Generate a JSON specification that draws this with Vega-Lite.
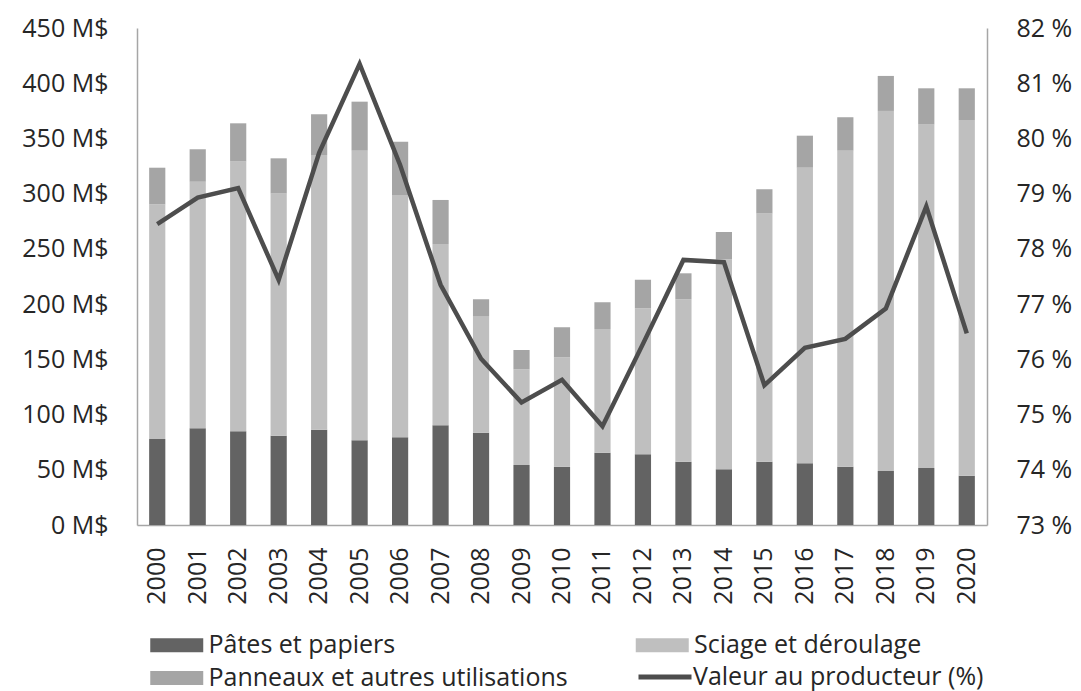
{
  "$schema": "https://vega.github.io/schema/vega-lite/v6.json",
  "width": 850,
  "height": 497,
  "autosize": {"type": "none"},
  "padding": {"left": 137, "top": 28, "right": 94, "bottom": 166},
  "background": "white",
  "config": {
    "font": "Open Sans",
    "view": {"stroke": null},
    "axis": {
      "labelFont": "Open Sans",
      "labelFontSize": 25,
      "labelColor": "#262626",
      "grid": false,
      "ticks": false,
      "domainColor": "#a6a6a6",
      "domainWidth": 1.5,
      "title": null
    },
    "legend": {
      "labelFont": "Open Sans",
      "labelFontSize": 25,
      "labelColor": "#262626",
      "labelLimit": 600,
      "padding": 0,
      "title": null
    }
  },
  "datasets": {
    "bars": [
      {"year": "2000", "cat": "Pâtes et papiers", "v": 77.9},
      {"year": "2000", "cat": "Sciage et déroulage", "v": 212.5},
      {"year": "2000", "cat": "Panneaux et autres utilisations", "v": 33.1},
      {"year": "2001", "cat": "Pâtes et papiers", "v": 87.6},
      {"year": "2001", "cat": "Sciage et déroulage", "v": 223.2},
      {"year": "2001", "cat": "Panneaux et autres utilisations", "v": 29.4},
      {"year": "2002", "cat": "Pâtes et papiers", "v": 84.8},
      {"year": "2002", "cat": "Sciage et déroulage", "v": 244.5},
      {"year": "2002", "cat": "Panneaux et autres utilisations", "v": 34.4},
      {"year": "2003", "cat": "Pâtes et papiers", "v": 80.9},
      {"year": "2003", "cat": "Sciage et déroulage", "v": 219.4},
      {"year": "2003", "cat": "Panneaux et autres utilisations", "v": 31.7},
      {"year": "2004", "cat": "Pâtes et papiers", "v": 86.3},
      {"year": "2004", "cat": "Sciage et déroulage", "v": 248.7},
      {"year": "2004", "cat": "Panneaux et autres utilisations", "v": 36.9},
      {"year": "2005", "cat": "Pâtes et papiers", "v": 76.7},
      {"year": "2005", "cat": "Sciage et déroulage", "v": 262.2},
      {"year": "2005", "cat": "Panneaux et autres utilisations", "v": 44.4},
      {"year": "2006", "cat": "Pâtes et papiers", "v": 79.4},
      {"year": "2006", "cat": "Sciage et déroulage", "v": 219.4},
      {"year": "2006", "cat": "Panneaux et autres utilisations", "v": 48.3},
      {"year": "2007", "cat": "Pâtes et papiers", "v": 90.3},
      {"year": "2007", "cat": "Sciage et déroulage", "v": 164.1},
      {"year": "2007", "cat": "Panneaux et autres utilisations", "v": 39.9},
      {"year": "2008", "cat": "Pâtes et papiers", "v": 83.6},
      {"year": "2008", "cat": "Sciage et déroulage", "v": 105.6},
      {"year": "2008", "cat": "Panneaux et autres utilisations", "v": 15.2},
      {"year": "2009", "cat": "Pâtes et papiers", "v": 54.3},
      {"year": "2009", "cat": "Sciage et déroulage", "v": 86.7},
      {"year": "2009", "cat": "Panneaux et autres utilisations", "v": 17.5},
      {"year": "2010", "cat": "Pâtes et papiers", "v": 52.8},
      {"year": "2010", "cat": "Sciage et déroulage", "v": 99.0},
      {"year": "2010", "cat": "Panneaux et autres utilisations", "v": 27.2},
      {"year": "2011", "cat": "Pâtes et papiers", "v": 65.5},
      {"year": "2011", "cat": "Sciage et déroulage", "v": 112.0},
      {"year": "2011", "cat": "Panneaux et autres utilisations", "v": 24.1},
      {"year": "2012", "cat": "Pâtes et papiers", "v": 64.0},
      {"year": "2012", "cat": "Sciage et déroulage", "v": 132.2},
      {"year": "2012", "cat": "Panneaux et autres utilisations", "v": 25.9},
      {"year": "2013", "cat": "Pâtes et papiers", "v": 57.3},
      {"year": "2013", "cat": "Sciage et déroulage", "v": 147.1},
      {"year": "2013", "cat": "Panneaux et autres utilisations", "v": 23.5},
      {"year": "2014", "cat": "Pâtes et papiers", "v": 50.4},
      {"year": "2014", "cat": "Sciage et déroulage", "v": 190.2},
      {"year": "2014", "cat": "Panneaux et autres utilisations", "v": 24.7},
      {"year": "2015", "cat": "Pâtes et papiers", "v": 57.3},
      {"year": "2015", "cat": "Sciage et déroulage", "v": 224.9},
      {"year": "2015", "cat": "Panneaux et autres utilisations", "v": 21.8},
      {"year": "2016", "cat": "Pâtes et papiers", "v": 55.9},
      {"year": "2016", "cat": "Sciage et déroulage", "v": 267.6},
      {"year": "2016", "cat": "Panneaux et autres utilisations", "v": 29.0},
      {"year": "2017", "cat": "Pâtes et papiers", "v": 52.8},
      {"year": "2017", "cat": "Sciage et déroulage", "v": 286.1},
      {"year": "2017", "cat": "Panneaux et autres utilisations", "v": 30.3},
      {"year": "2018", "cat": "Pâtes et papiers", "v": 48.9},
      {"year": "2018", "cat": "Sciage et déroulage", "v": 326.0},
      {"year": "2018", "cat": "Panneaux et autres utilisations", "v": 31.7},
      {"year": "2019", "cat": "Pâtes et papiers", "v": 51.6},
      {"year": "2019", "cat": "Sciage et déroulage", "v": 310.9},
      {"year": "2019", "cat": "Panneaux et autres utilisations", "v": 32.9},
      {"year": "2020", "cat": "Pâtes et papiers", "v": 44.6},
      {"year": "2020", "cat": "Sciage et déroulage", "v": 322.1},
      {"year": "2020", "cat": "Panneaux et autres utilisations", "v": 28.7}
    ],
    "line": [
      {"year": "2000", "pct": 78.45},
      {"year": "2001", "pct": 78.93},
      {"year": "2002", "pct": 79.10},
      {"year": "2003", "pct": 77.44},
      {"year": "2004", "pct": 79.74},
      {"year": "2005", "pct": 81.35},
      {"year": "2006", "pct": 79.52},
      {"year": "2007", "pct": 77.35},
      {"year": "2008", "pct": 76.01},
      {"year": "2009", "pct": 75.22},
      {"year": "2010", "pct": 75.63},
      {"year": "2011", "pct": 74.79},
      {"year": "2012", "pct": 76.28},
      {"year": "2013", "pct": 77.80},
      {"year": "2014", "pct": 77.76},
      {"year": "2015", "pct": 75.53},
      {"year": "2016", "pct": 76.21},
      {"year": "2017", "pct": 76.37},
      {"year": "2018", "pct": 76.92},
      {"year": "2019", "pct": 78.77},
      {"year": "2020", "pct": 76.47}
    ]
  },
  "layer": [
    {
      "data": {"name": "bars"},
      "transform": [
        {"calculate": "indexof(['Pâtes et papiers', 'Sciage et déroulage', 'Panneaux et autres utilisations'], datum.cat)", "as": "ord"}
      ],
      "mark": {"type": "bar"},
      "encoding": {
        "x": {
          "field": "year",
          "type": "ordinal",
          "scale": {"paddingInner": 0.6, "paddingOuter": 0.3},
          "axis": {"labelAngle": -90, "labelPadding": 22}
        },
        "y": {
          "field": "v",
          "type": "quantitative",
          "stack": "zero",
          "scale": {"domain": [0, 450], "nice": false},
          "axis": {
            "values": [0, 50, 100, 150, 200, 250, 300, 350, 400, 450],
            "labelExpr": "datum.value + ' M$'",
            "labelPadding": 29
          }
        },
        "fill": {
          "field": "cat",
          "type": "nominal",
          "scale": {
            "domain": ["Pâtes et papiers", "Sciage et déroulage", "Panneaux et autres utilisations"],
            "range": ["#636363", "#bfbfbf", "#a5a5a5"]
          },
          "legend": {
            "orient": "none",
            "direction": "horizontal",
            "legendX": 26.25,
            "legendY": 603.5,
            "columns": 2,
            "columnPadding": 67.5,
            "rowPadding": 6,
            "symbolType": "M-2,-0.53H2V0.53H-2Z",
            "symbolSize": 702,
            "symbolStrokeWidth": 0,
            "labelOffset": 18.25
          }
        },
        "order": {"field": "ord", "type": "quantitative"}
      }
    },
    {
      "data": {"name": "line"},
      "mark": {"type": "line", "strokeWidth": 4.5},
      "encoding": {
        "x": {"field": "year", "type": "ordinal"},
        "y": {
          "field": "pct",
          "type": "quantitative",
          "scale": {"domain": [73, 82], "nice": false, "zero": false},
          "axis": {
            "orient": "right",
            "values": [73, 74, 75, 76, 77, 78, 79, 80, 81, 82],
            "labelExpr": "datum.value + ' %'",
            "labelPadding": 29
          }
        },
        "stroke": {
          "datum": "Valeur au producteur (%)",
          "type": "nominal",
          "scale": {"range": ["#4d4d4d"]},
          "legend": {
            "orient": "none",
            "legendX": 499,
            "legendY": 620,
            "symbolType": "stroke",
            "symbolSize": 2809,
            "symbolStrokeWidth": 5,
            "labelOffset": -1
          }
        }
      }
    }
  ],
  "resolve": {"scale": {"y": "independent"}}
}
